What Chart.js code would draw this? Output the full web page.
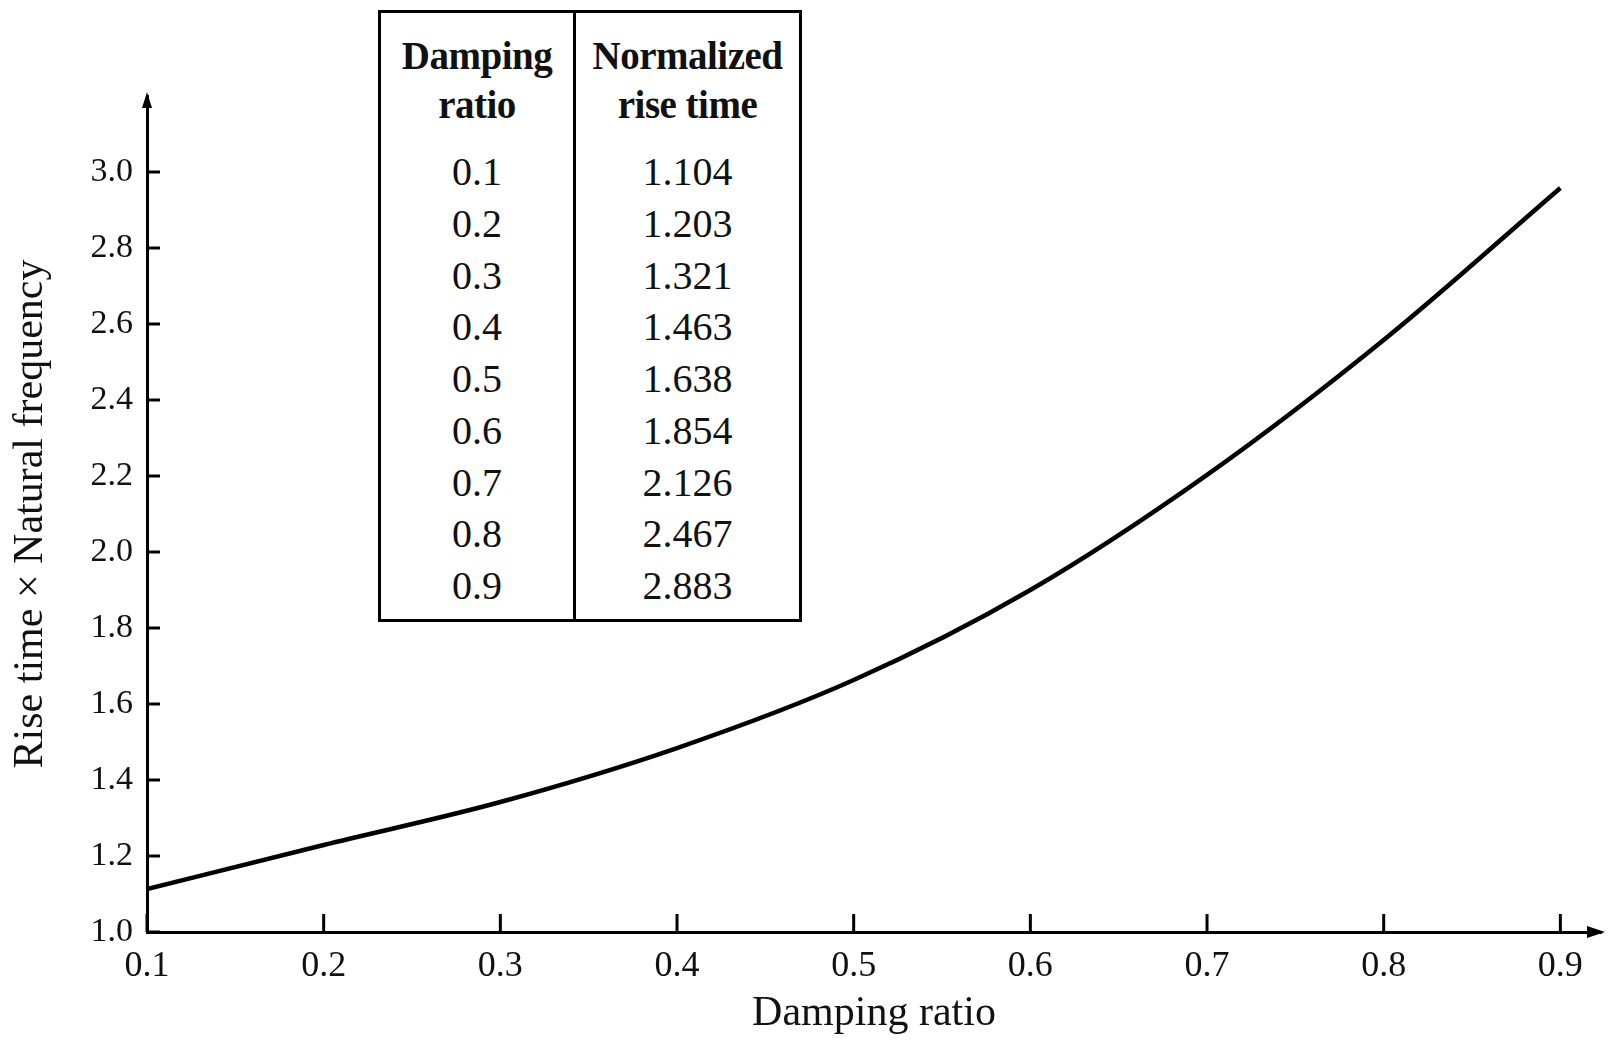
<!DOCTYPE html>
<html>
<head>
<meta charset="utf-8">
<title>Rise time vs damping ratio</title>
<script src="https://cdn.jsdelivr.net/npm/chart.js@4.4.1/dist/chart.umd.min.js"></script>
<style>
  body { margin: 0; background: #fff; }
  #wrap { position: relative; width: 1609px; height: 1046px; }
  #tbl {
    position: absolute; left: 378px; top: 10px; width: 424px; height: 612px;
    border: 3px solid #000; box-sizing: border-box; display: flex;
    font-family: "Liberation Serif", "DejaVu Serif", serif; color: #111;
    background: #fff;
  }
  .col { text-align: center; white-space: nowrap; }
  .col1 { width: 192px; border-right: 3px solid #000; }
  .col2 { flex: 1; }
  .head { padding-top: 18px; font-weight: bold; font-size: 39px; line-height: 49px; letter-spacing: -0.5px; }
  .rows { margin-top: 17px; font-size: 40px; line-height: 51.75px; }
</style>
</head>
<body>
<div id="wrap">
  <canvas id="myChart" width="1609" height="1046"></canvas>
  <div id="tbl">
    <div class="col col1"><div class="head">Damping<br>ratio</div><div class="rows" id="colRatio"></div></div>
    <div class="col col2"><div class="head">Normalized<br>rise time</div><div class="rows" id="colRise"></div></div>
  </div>
</div>
<script>
// curve
const dampingRatio = [0.1, 0.2, 0.3, 0.4, 0.5, 0.6, 0.7, 0.8, 0.9];
const riseTimeNorm = [1.113, 1.229, 1.342, 1.484, 1.663, 1.900, 2.203, 2.558, 2.958];

// inset table
const tableRatio = ['0.1', '0.2', '0.3', '0.4', '0.5', '0.6', '0.7', '0.8', '0.9'];
const tableRise = ['1.104', '1.203', '1.321', '1.463', '1.638', '1.854', '2.126', '2.467', '2.883'];

const xTicks = [0.1, 0.2, 0.3, 0.4, 0.5, 0.6, 0.7, 0.8, 0.9];
const yTicks = [1.0, 1.2, 1.4, 1.6, 1.8, 2.0, 2.2, 2.4, 2.6, 2.8, 3.0];

document.getElementById('colRatio').innerHTML = tableRatio.map(v => `<div>${v}</div>`).join('');
document.getElementById('colRise').innerHTML = tableRise.map(v => `<div>${v}</div>`).join('');

const serif = '"Liberation Serif", "DejaVu Serif", serif';

// inward tick marks + axis arrows
const axisDecor = {
    id: 'axisDecor',
    afterDraw(chart) {
        const ctx = chart.ctx;
        const xs = chart.scales.x;
        const ys = chart.scales.y;
        const area = chart.chartArea;
        ctx.save();
        ctx.strokeStyle = '#000';
        ctx.fillStyle = '#000';
        ctx.lineWidth = 3;
        xTicks.forEach(v => {
            const px = xs.getPixelForValue(v);
            ctx.beginPath();
            ctx.moveTo(px, area.bottom);
            ctx.lineTo(px, area.bottom - 18);
            ctx.stroke();
        });
        yTicks.forEach(v => {
            const py = ys.getPixelForValue(v);
            ctx.beginPath();
            ctx.moveTo(area.left, py);
            ctx.lineTo(area.left + 13, py);
            ctx.stroke();
        });
        // arrow heads
        ctx.beginPath();
        ctx.moveTo(area.left, area.top - 4);
        ctx.lineTo(area.left - 5, area.top + 12);
        ctx.lineTo(area.left + 5, area.top + 12);
        ctx.closePath();
        ctx.fill();
        ctx.beginPath();
        ctx.moveTo(area.right + 4, area.bottom);
        ctx.lineTo(area.right - 14, area.bottom - 6);
        ctx.lineTo(area.right - 14, area.bottom + 6);
        ctx.closePath();
        ctx.fill();
        ctx.restore();
    }
};

const ctx = document.getElementById('myChart').getContext('2d');
const myChart = new Chart(ctx, {
    type: 'line',
    data: {
        datasets: [{
            data: dampingRatio.map((r, i) => ({ x: r, y: riseTimeNorm[i] })),
            borderColor: '#000',
            borderWidth: 4.5,
            pointRadius: 0,
            fill: false,
            cubicInterpolationMode: 'monotone'
        }]
    },
    options: {
        responsive: false,
        animation: false,
        layout: { padding: { top: 96, right: 8, left: 0, bottom: 0 } },
        plugins: { legend: { display: false }, tooltip: { enabled: false } },
        scales: {
            x: {
                type: 'linear',
                min: 0.1,
                max: 0.923,
                afterBuildTicks: (s) => { s.ticks = xTicks.map(v => ({ value: v })); },
                afterFit: (s) => { s.height = 114; },
                grid: { display: false, drawTicks: false },
                border: { display: true, color: '#000', width: 3 },
                ticks: {
                    padding: 13,
                    color: '#111',
                    font: { family: serif, size: 36 },
                    callback: (v) => Number(v).toFixed(1)
                },
                title: {
                    display: true,
                    text: 'Damping ratio',
                    color: '#111',
                    font: { family: serif, size: 42 },
                    padding: { top: 0, bottom: 7 }
                }
            },
            y: {
                min: 1.0,
                max: 3.2,
                afterBuildTicks: (s) => { s.ticks = yTicks.map(v => ({ value: v })); },
                afterFit: (s) => { s.width = 147; },
                grid: { display: false, drawTicks: false },
                border: { display: true, color: '#000', width: 3 },
                ticks: {
                    padding: 14,
                    color: '#111',
                    font: { family: serif, size: 34 },
                    callback: (v) => Number(v).toFixed(1)
                },
                title: {
                    display: true,
                    text: 'Rise time \u00d7 Natural frequency',
                    color: '#111',
                    font: { family: serif, size: 42 },
                    padding: { top: 6, bottom: 6 }
                }
            }
        }
    },
    plugins: [axisDecor]
});
</script>
</body>
</html>
